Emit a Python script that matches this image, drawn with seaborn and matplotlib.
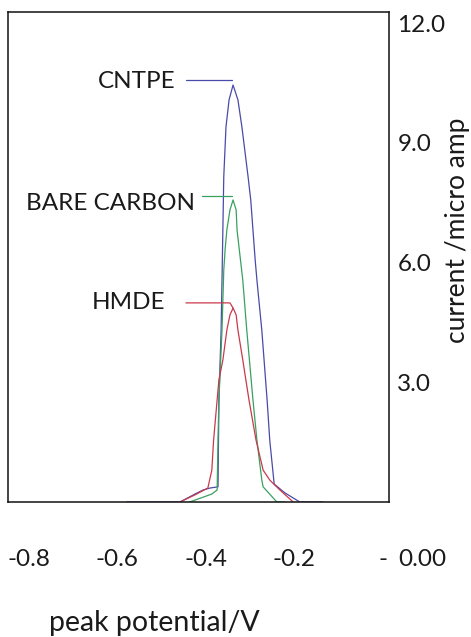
import matplotlib
matplotlib.use("Agg")
import matplotlib.pyplot as plt
import seaborn as sns
import pandas as pd

# ---- data ----
cntpe_v = [-0.578, -0.458, -0.424, -0.406, -0.390, -0.372, -0.370, -0.365, -0.363, -0.359,
           -0.354, -0.347, -0.338, -0.327, -0.318, -0.304, -0.298, -0.288, -0.284, -0.273,
           -0.261, -0.255, -0.245, -0.221, -0.187, -0.135]
cntpe_i = [0.0, 0.0, 0.20, 0.30, 0.35, 0.38, 2.56, 4.31, 5.56, 8.15,
           9.40, 10.08, 10.45, 10.08, 9.40, 8.15, 7.57, 6.07, 5.56, 4.31,
           2.56, 1.55, 0.45, 0.23, 0.0, 0.0]

bare_v = [-0.436, -0.386, -0.374, -0.372, -0.370, -0.363, -0.359, -0.356, -0.352, -0.345,
          -0.338, -0.331, -0.329, -0.316, -0.307, -0.293, -0.284, -0.273, -0.270, -0.239, -0.221]
bare_i = [0.0, 0.20, 0.30, 1.55, 2.56, 4.31, 5.81, 6.32, 6.82, 7.32,
          7.57, 7.32, 6.82, 5.56, 4.31, 2.56, 1.55, 0.55, 0.38, 0.0, 0.0]

hmde_v = [-0.458, -0.424, -0.395, -0.386, -0.382, -0.374, -0.370, -0.361, -0.352, -0.345,
          -0.338, -0.331, -0.327, -0.316, -0.302, -0.286, -0.270, -0.255, -0.232, -0.202]
hmde_i = [0.0, 0.18, 0.35, 0.80, 1.55, 2.56, 3.06, 3.56, 4.31, 4.69,
          4.86, 4.69, 4.31, 3.56, 2.56, 1.55, 0.80, 0.55, 0.30, 0.0]

series_names = ["CNTPE", "BARE CARBON", "HMDE"]
series_colors = ["#4a4aa8", "#3aa060", "#c83a4a"]

x_ticks = [-0.8, -0.6, -0.4, -0.2, 0.0]
x_tick_labels = ["-0.8", "-0.6", "-0.4", "-0.2", "-"]
y_ticks = [3.0, 6.0, 9.0, 12.0]
y_tick_labels = ["3.0", "6.0", "9.0", "12.0"]
y_zero_label = "0.00"

# leader lines: (V points, current points)
leader_cntpe = ([-0.4446, -0.3405], [10.58, 10.58])
leader_bare = ([-0.4084, -0.3405], [7.67, 7.67])
leader_hmde = ([-0.4446, -0.3450, -0.338], [4.99, 4.99, 4.86])

# ---- figure ----
sns.set_theme(style="white")
plt.rcParams["font.family"] = ["Lato", "DejaVu Sans"]

fig = plt.figure(figsize=(4.71, 6.37), dpi=100)
ax = fig.add_axes([8 / 471, 1 - 502 / 637, (389 - 8) / 471, (502 - 12) / 637])

frames = [
    pd.DataFrame({"v": cntpe_v, "i": cntpe_i, "s": series_names[0]}),
    pd.DataFrame({"v": bare_v, "i": bare_i, "s": series_names[1]}),
    pd.DataFrame({"v": hmde_v, "i": hmde_i, "s": series_names[2]}),
]
for df, c in zip(frames, series_colors):
    sns.lineplot(data=df, x="v", y="i", sort=False, estimator=None, color=c,
                 linewidth=0.9, ax=ax, legend=False)

for (lx, ly), c in zip([leader_cntpe, leader_bare, leader_hmde], series_colors):
    ax.plot(lx, ly, color=c, linewidth=0.9)

ax.set_xlim(-0.847, 0.0147)
ax.set_ylim(0, 12.28)

fs = 17.5
tc = "#1a1a1a"
ax.text(-0.469, 10.53, series_names[0], ha="right", va="center", fontsize=fs, color=tc)
ax.text(-0.424, 7.49, series_names[1], ha="right", va="center", fontsize=fs, color=tc)
ax.text(-0.492, 4.99, series_names[2], ha="right", va="center", fontsize=fs, color=tc)

ax.set_xticks(x_ticks)
ax.set_xticklabels(x_tick_labels, fontsize=fs, color=tc)
ax.tick_params(axis="x", length=0, pad=34)

ax.yaxis.tick_right()
ax.set_yticks(y_ticks)
ax.set_yticklabels(y_tick_labels, fontsize=fs, color=tc)
ax.tick_params(axis="y", length=0, pad=6)

fig.text(398 / 471, 1 - 560 / 637, y_zero_label, ha="left", va="center",
         fontsize=fs, color=tc)

ax.set_xlabel("peak potential/V", fontsize=20.5, color=tc)
ax.xaxis.label.set_va("center")
ax.xaxis.set_label_coords((154 - 8) / 381, (502 - 623) / 490)

ax.yaxis.set_label_position("right")
ax.set_ylabel("current /micro amp", fontsize=19, color=tc, rotation=90)
ax.yaxis.label.set_va("center")
ax.yaxis.label.set_ha("center")
ax.yaxis.set_label_coords((458 - 8) / 381, (502 - 230) / 490)

for sp in ax.spines.values():
    sp.set_visible(True)
    sp.set_color("#111111")
    sp.set_linewidth(1.1)

fig.savefig("out.png", dpi=100)
